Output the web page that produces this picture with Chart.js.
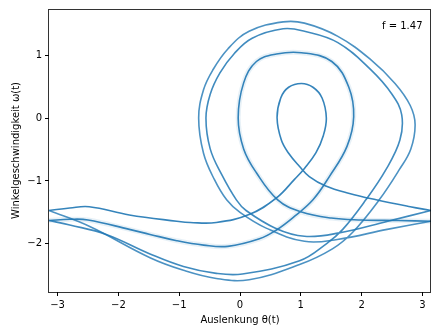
<!DOCTYPE html>
<html>
<head>
<meta charset="utf-8">
<script src="https://cdn.jsdelivr.net/npm/chart.js@4/dist/chart.umd.min.js"></script>
<style>
  html, body { margin: 0; padding: 0; background: #fff; }
  canvas { display: block; }
</style>
</head>
<body>
<canvas id="chart" width="432" height="329"></canvas>
<script>
// Achsen
const thetaTicks = [-3, -2, -1, 0, 1, 2, 3];
const omegaTicks = [-2, -1, 0, 1];
const thetaRange = [-Math.PI, Math.PI];
const omegaRange = [-2.766, 1.735];
const driveLabel = 'f = 1.47';

// Kurven [theta, omega]
const innerLoop = [
  [3.14,-1.47],[2.8,-1.41],[2.24,-1.30],[1.8,-1.2],[1.41,-1.08],[1.14,-0.93],[0.98,-0.77],
  [0.8,-0.56],[0.68,-0.35],[0.61,0],[0.67,0.32],[0.8,0.49],[1.01,0.55],[1.2,0.49],
  [1.35,0.32],[1.42,0],[1.37,-0.28],[1.25,-0.55],[1.06,-0.8],[0.9,-0.97],[0.6,-1.27],
  [0.16,-1.53],[-0.39,-1.66],[-0.82,-1.66],[-1.04,-1.64],[-1.82,-1.54],[-2.48,-1.41],
  [-2.8,-1.43],[-3.14,-1.47]
];
const middleLoop = [
  [3.14,-1.64],[2.6,-1.63],[2.0,-1.62],[1.5,-1.59],[1.0,-1.49],[0.62,-1.3],[0.27,-0.87],
  [0.06,-0.49],[-0.03,0],[0.06,0.56],[0.27,0.9],[0.6,1.02],[1.01,1.04],[1.51,0.9],
  [1.79,0.49],[1.87,0.02],[1.76,-0.45],[1.47,-0.93],[1.2,-1.3],[0.9,-1.56],[0.6,-1.78],
  [0.32,-1.92],[-0.2,-2.04],[-0.6,-2.02],[-1.04,-1.95],[-1.48,-1.85],[-1.82,-1.77],
  [-2.5,-1.62],[-2.8,-1.61],[-3.14,-1.63]
];
const outerLoopA = [
  [3.14,-1.64],[2.42,-1.77],[1.6,-1.93],[1.06,-1.96],[0.43,-1.75],[0.0,-1.5],[-0.22,-1.3],
  [-0.42,-0.98],[-0.6,-0.56],[-0.68,0.0],[-0.6,0.45],[-0.45,0.76],[-0.2,1.1],[0.15,1.38],
  [0.71,1.53],[1.06,1.51],[1.61,1.3],[2.15,0.93],[2.55,0.55],[2.8,0.2],[2.88,-0.1],
  [2.81,-0.49],[2.62,-0.82],[2.29,-1.3],[1.85,-1.82],[1.52,-2.08],[0.98,-2.33],
  [0.15,-2.57],[-0.39,-2.55],[-0.93,-2.42],[-1.48,-2.22],[-2.48,-1.72],[-3.14,-1.47]
];
const outerLoopB = [
  [3.14,-1.47],[2.43,-1.64],[1.61,-1.83],[1.06,-1.88],[0.6,-1.76],[0.1,-1.47],[-0.06,-1.3],
  [-0.3,-0.9],[-0.49,-0.49],[-0.56,0],[-0.49,0.38],[-0.33,0.72],[-0.1,1.02],[0.2,1.27],
  [0.71,1.42],[1.06,1.38],[1.61,1.2],[2.15,0.77],[2.5,0.38],[2.66,0.05],[2.63,-0.35],
  [2.4,-0.82],[2.07,-1.3],[1.69,-1.77],[1.42,-2.0],[0.98,-2.27],[0.04,-2.48],[-0.39,-2.47],
  [-0.93,-2.36],[-1.48,-2.16],[-2.2,-1.85],[-2.8,-1.7],[-3.14,-1.63]
];

const BLUE = 'rgba(31,119,180,0.9)';
const toPts = (arr) => arr.map(([x, y]) => ({ x, y }));
const fmt = (v) => String(v).replace('-', '\u2212');
const FONT = { family: 'DejaVu Sans', size: 10 };

function curve(data, color, width) {
  return { data: toPts(data), showLine: true, borderColor: color, borderWidth: width,
    pointRadius: 0, tension: 0.4, fill: false };
}

const frame = {
  id: 'frame',
  afterDatasetsDraw(chart) {
    const { ctx, chartArea: a } = chart;
    ctx.save();
    ctx.strokeStyle = 'rgba(0,0,0,0.8)';
    ctx.lineWidth = 1;
    ctx.strokeRect(Math.round(a.left) - 0.5, Math.round(a.top) + 0.5,
      Math.round(a.right - a.left), Math.round(a.bottom - a.top));
    ctx.fillStyle = '#000';
    ctx.font = '10px "DejaVu Sans"';
    ctx.textAlign = 'right';
    ctx.textBaseline = 'middle';
    ctx.fillText(driveLabel, a.right - 8.5, a.top + 17);
    ctx.restore();
  }
};

new Chart(document.getElementById('chart'), {
  type: 'scatter',
  data: {
    datasets: [
      curve(middleLoop, 'rgba(31,119,180,0.1)', 5),
      curve(middleLoop, BLUE, 1.6),
      curve(innerLoop, BLUE, 1.6),
      curve(outerLoopA, 'rgba(31,119,180,0.8)', 1.6),
      curve(outerLoopB, 'rgba(31,119,180,0.85)', 1.6)
    ]
  },
  options: {
    responsive: false,
    animation: false,
    devicePixelRatio: 1,
    layout: { padding: { top: 9, right: 1, left: 0, bottom: 0 } },
    plugins: { legend: { display: false }, tooltip: { enabled: false } },
    scales: {
      x: {
        type: 'linear', min: thetaRange[0], max: thetaRange[1],
        afterBuildTicks: (s) => { s.ticks = thetaTicks.map((v) => ({ value: v })); },
        afterFit: (s) => { s.height = 37; },
        ticks: { font: FONT, color: '#000', padding: 3, maxRotation: 0, callback: fmt },
        grid: { drawOnChartArea: false, drawTicks: true, tickLength: 4, color: '#000' },
        border: { display: false },
        title: { display: true, text: 'Auslenkung θ(t)', font: FONT, color: '#000',
          padding: { top: 0, bottom: 3 } }
      },
      y: {
        type: 'linear', min: omegaRange[0], max: omegaRange[1],
        afterBuildTicks: (s) => { s.ticks = omegaTicks.map((v) => ({ value: v })); },
        afterFit: (s) => { s.width = 49; },
        ticks: { font: FONT, color: '#000', padding: 3, callback: fmt },
        grid: { drawOnChartArea: false, drawTicks: true, tickLength: 4, color: '#000' },
        border: { display: false },
        title: { display: true, text: 'Winkelgeschwindigkeit ω(t)', font: FONT, color: '#000',
          padding: { top: 10, bottom: 0 } }
      }
    }
  },
  plugins: [frame]
});
</script>
</body>
</html>
